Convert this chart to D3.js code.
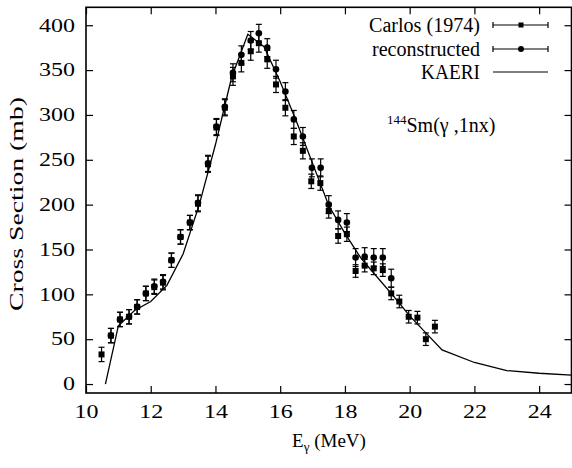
<!DOCTYPE html>
<html><head><meta charset="utf-8">
<script src="https://cdn.jsdelivr.net/npm/d3@7"></script>
<style>
body{margin:0;background:#fff}
svg{display:block}
</style>
</head><body>
<svg id="c" width="572" height="468"></svg>
<script>
// ---- data ----
const carlosE = [10.48,10.77,11.05,11.33,11.58,11.85,12.11,12.38,12.64,12.92,13.21,13.46,13.77,14.03,14.29,14.54,14.80,15.09,15.34,15.60,15.87,16.16,16.42,16.70,16.96,17.24,17.50,17.79,18.06,18.33,18.61,18.89,19.17,19.43,19.68,19.97,20.24,20.50,20.78];
const carlosV = [33,54,72,75,86,101,108,113,138,164,180,201,245,286,308,343,358,371,380,362,334,308,276,260,226,224,193,165,167,126,132,129,127,101,92,75,74,50,64];
const carlosErr = [8,8,8,8,8,8,8,8,8,8,8,9,9,9,9,10,10,10,10,10,9,9,9,9,8,8,8,8,8,7,7,7,7,7,7,7,7,7,7];

const reconE = [10.77,11.05,11.33,11.58,11.85,12.11,12.38,12.64,12.92,13.21,13.46,13.77,14.03,14.29,14.54,14.80,15.09,15.34,15.60,15.87,16.16,16.42,16.70,16.98,17.25,17.50,17.79,18.06,18.33,18.61,18.89,19.17,19.43];
const reconV = [54,72,75,86,101,109,114,138,164,180,202,246,287,309,347,367,383,391,375,351,326,295,276,241,241,200,183,180,141,142,141,141,118];
const reconErr = [8,8,8,8,8,8,8,8,8,8,9,9,9,9,10,10,10,10,10,10,10,10,10,10,10,10,10,10,10,10,10,10,10];

const kaeriE = [10.6,11.0,11.5,12.0,12.5,13.0,13.5,14.0,14.5,15.0,15.5,16.0,16.5,17.0,17.5,18.0,18.5,19.0,19.5,20.0,20.5,21.0,22.0,23.0,24.0,25.0];
const kaeriV = [0,65,82,92,110,145,200,267,342,390,376,337,293,246,199,168,140,119,98,76,57,38,24,15,12,10];

const xTicks = [10,12,14,16,18,20,22,24];
const yTicks = [0,50,100,150,200,250,300,350,400];
const legendLabels = ["Carlos (1974)","reconstructed","KAERI"];

// ---- drawing ----
const FONT = "'Liberation Serif', 'Times New Roman', Times, serif";
const svg = d3.select("#c").style("font-family", FONT);
const L=86, R=571.5, T=7.3, B=393;
const x = d3.scaleLinear().domain([10,25]).range([L,R]);
const y = d3.scaleLinear().domain([-10,420]).range([B,T]);
const FS = 18;

function styleAxis(g, labels){
  g.attr("font-family", null).style("font-family", FONT).attr("font-size", FS);
  g.select(".domain").remove();
  g.selectAll(".tick line").attr("stroke","#000").attr("stroke-width",1.2);
  g.selectAll(".tick text").attr("fill","#000").style("font-family", FONT).style("font-size", FS+"px")
    .attr("textLength", d => String(d).length*12).attr("lengthAdjust","spacingAndGlyphs");
  if(!labels) g.selectAll(".tick text").remove();
}
svg.append("g").attr("transform",`translate(0,${B})`)
  .call(d3.axisBottom(x).tickValues(xTicks).tickSizeInner(-7).tickSizeOuter(0).tickPadding(12).tickFormat(d3.format("d")))
  .call(g=>styleAxis(g,true));
svg.append("g").attr("transform",`translate(0,${T})`)
  .call(d3.axisTop(x).tickValues(xTicks).tickSizeInner(-7).tickSizeOuter(0))
  .call(g=>styleAxis(g,false));
svg.append("g").attr("transform",`translate(${L},0)`)
  .call(d3.axisLeft(y).tickValues(yTicks).tickSizeInner(-7).tickSizeOuter(0).tickPadding(11).tickFormat(d3.format("d")))
  .call(g=>styleAxis(g,true));
svg.append("g").attr("transform",`translate(${R},0)`)
  .call(d3.axisRight(y).tickValues(yTicks).tickSizeInner(-7).tickSizeOuter(0))
  .call(g=>styleAxis(g,false));

svg.append("rect").attr("x",L).attr("y",T).attr("width",R-L).attr("height",B-T)
  .attr("fill","none").attr("stroke","#000").attr("stroke-width",1.6);

// KAERI line
const line = d3.line().x(d=>x(d[0])).y(d=>y(d[1]));
svg.append("path").datum(kaeriE.map((e,i)=>[e,kaeriV[i]]))
  .attr("d",line).attr("fill","none").attr("stroke","#000").attr("stroke-width",1.3);

function errorBars(E,V,Err){
  const g = svg.append("g").attr("stroke","#000").attr("stroke-width",1.2);
  E.forEach((e,i)=>{
    const cx=x(e), y1=y(V[i]-Err[i]), y2=y(V[i]+Err[i]);
    g.append("line").attr("x1",cx).attr("x2",cx).attr("y1",y1).attr("y2",y2);
    g.append("line").attr("x1",cx-3).attr("x2",cx+3).attr("y1",y1).attr("y2",y1);
    g.append("line").attr("x1",cx-3).attr("x2",cx+3).attr("y1",y2).attr("y2",y2);
  });
}
errorBars(carlosE,carlosV,carlosErr);
errorBars(reconE,reconV,reconErr);

svg.append("g").selectAll("rect").data(carlosE).join("rect")
  .attr("x",(d)=>x(d)-3).attr("y",(d,i)=>y(carlosV[i])-3).attr("width",6).attr("height",6).attr("fill","#000");
svg.append("g").selectAll("circle").data(reconE).join("circle")
  .attr("cx",d=>x(d)).attr("cy",(d,i)=>y(reconV[i])).attr("r",3.3).attr("fill","#000");

// legend
const legY=[25,49,72], legW=[111,108,59], lx1=493, lx2=548, lxm=521;
legendLabels.forEach((lab,i)=>{
  svg.append("text").attr("x",480).attr("y",legY[i]).attr("dy","0.35em")
    .attr("text-anchor","end").style("font-family",FONT).style("font-size","20px")
    .attr("textLength",legW[i]).attr("lengthAdjust","spacingAndGlyphs").text(lab);
  const g=svg.append("g").attr("stroke","#000").attr("stroke-width",1.2);
  g.append("line").attr("x1",lx1).attr("x2",lx2).attr("y1",legY[i]).attr("y2",legY[i]);
  if(i<2){
    g.append("line").attr("x1",lx1).attr("x2",lx1).attr("y1",legY[i]-3).attr("y2",legY[i]+3);
    g.append("line").attr("x1",lx2).attr("x2",lx2).attr("y1",legY[i]-3).attr("y2",legY[i]+3);
  }
  if(i===0) svg.append("rect").attr("x",lxm-2.5).attr("y",legY[i]-2.5).attr("width",5).attr("height",5).attr("fill","#000");
  if(i===1) svg.append("circle").attr("cx",lxm).attr("cy",legY[i]).attr("r",3).attr("fill","#000");
});

// annotation
const ann = svg.append("text").attr("x",387).attr("y",132).style("font-family",FONT).style("font-size","20px");
ann.append("tspan").style("font-size","13px").attr("dy",-8).text("144");
ann.append("tspan").attr("dy",8).text("Sm(γ ,1nx)");

// axis titles
const xl = svg.append("text").attr("x",329).attr("y",447).attr("text-anchor","middle").style("font-family",FONT).style("font-size","19px");
xl.append("tspan").text("E");
xl.append("tspan").style("font-size","13px").attr("dy",4).text("γ");
xl.append("tspan").attr("dy",-4).text(" (MeV)");

svg.append("text").attr("transform","translate(23,204) rotate(-90)")
  .attr("text-anchor","middle").style("font-family",FONT).style("font-size",FS+"px")
  .attr("textLength",214).attr("lengthAdjust","spacingAndGlyphs").text("Cross Section (mb)");
</script>
</body></html>
